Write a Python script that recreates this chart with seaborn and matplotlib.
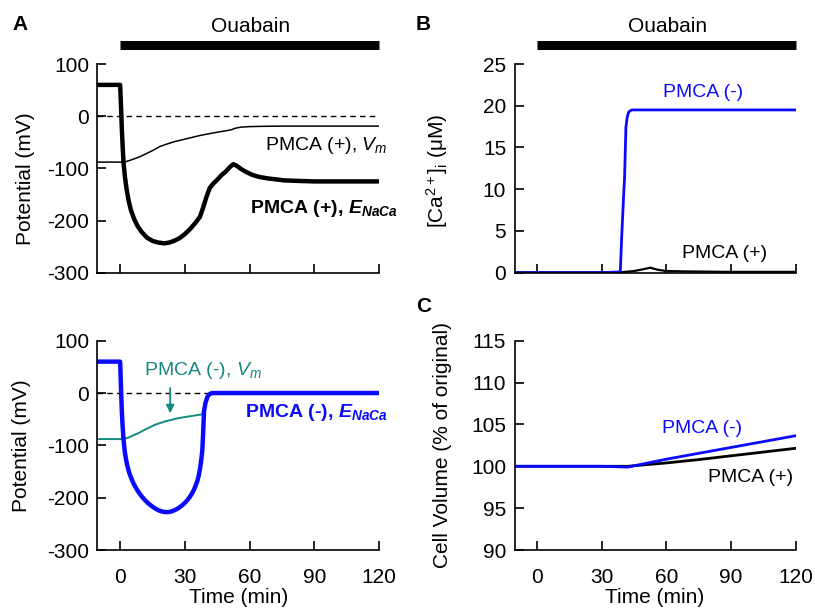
import numpy as np
import pandas as pd
import seaborn as sns
import matplotlib.pyplot as plt

# --- values (time in min) ---
# A, top: PMCA (+)
t_enaca_pos = [-10.5, 0, 0.4, 0.8, 1.2, 1.6, 2.2, 3, 4, 5, 6.5, 8, 10, 12.5, 15, 17.5, 20, 21, 23, 25,
               27.5, 30, 32.5, 35, 37, 38.5, 40, 41.5, 43, 45, 47, 49, 51, 52.5, 54, 56, 58, 61, 64,
               68, 72, 76, 82, 90, 100, 120]
v_enaca_pos = [60, 60, 20, -25, -60, -90, -115, -140, -163, -180, -197, -210, -222, -233, -239, -242,
               -243.5, -243.5, -242, -239, -234, -226, -216, -204, -193, -175, -155, -138, -130, -122,
               -113, -106, -97, -92, -95, -101, -106, -112, -116, -119, -121, -123, -124, -125, -125, -125]
t_vm_pos = [-10.5, 0, 2, 3.5, 5, 7, 9, 12, 15, 18.5, 22, 25, 28, 32, 37, 42, 46, 49, 51.5, 53.5, 56,
            60, 65, 75, 90, 120]
v_vm_pos = [-88, -88, -88, -86, -84, -81, -78, -72, -66, -58, -53, -49, -46, -42, -37, -33, -30, -28,
            -26, -23, -21, -20, -19.5, -19, -19, -19]

# A, bottom: PMCA (-)
t_enaca_neg = [-10.5, 0, 0.4, 0.8, 1.1, 1.6, 2.1, 2.6, 3.4, 4.2, 5, 6, 7, 8, 9, 10.3, 11.5, 12.7, 14,
               15.3, 16.6, 18, 19.5, 21, 22.5, 24, 25.5, 27, 28.5, 30, 31.2, 32.3, 33.3, 34.2, 35, 35.8,
               36.5, 37.1, 37.6, 38.1, 38.5, 38.9, 39.5, 40.4, 41.2, 42.5, 60, 120]
v_enaca_neg = [60, 60, 10, -35, -60, -90, -110, -124, -140, -152, -161, -171, -179, -186, -192, -199,
               -204.5, -209.5, -214, -218, -221.5, -224.5, -226.5, -227.5, -227.5, -226, -223.5, -220,
               -215.5, -210, -204.5, -198.5, -192, -185, -177, -168, -157, -143, -128, -110, -75, -35,
               -20, -8, -3, 0, 0, 0]
t_vm_neg = [-10.5, 0, 2, 4, 6, 8.8, 11, 13.5, 16, 18, 21, 24, 27, 30, 33, 36, 38, 38.6, 39.2, 40,
            40.8, 42, 60, 120]
v_vm_neg = [-88, -88, -87.5, -85, -81, -76, -71, -66, -61, -58, -54, -51, -48, -46, -44, -42, -41,
            -32, -20, -10, -3, 0, 0, 0]

# B: [Ca2+]i (uM)
t_ca_neg = [-10.5, 0, 30, 38.6, 39.2, 40.1, 40.6, 41.2, 41.8, 42.4, 43.2, 44, 60, 120]
v_ca_neg = [0, 0, 0, 0.1, 4, 9, 11.5, 17.4, 18.6, 19.2, 19.4, 19.5, 19.5, 19.5]
t_ca_pos = [-10.5, 0, 30, 40, 45, 49, 52.5, 56, 60, 70, 90, 120]
v_ca_pos = [0.05, 0.05, 0.05, 0.08, 0.2, 0.4, 0.6, 0.35, 0.2, 0.15, 0.1, 0.1]

# C: cell volume (% of original)
t_vol = [-10.5, 0, 30, 42, 60, 75, 90, 105, 120]
v_vol_neg = [100, 100, 100, 99.9, 100.85, 101.55, 102.25, 102.95, 103.65]
v_vol_pos = [100, 100, 100, 100, 100.4, 100.8, 101.25, 101.7, 102.15]

time_ticks = [0, 30, 60, 90, 120]
ouabain_span = [0, 120]

BLUE = "#0a0aff"
TEAL = "#14897f"

sns.set_style("ticks")
plt.rcParams["font.family"] = ["Liberation Sans", "DejaVu Sans"]
plt.rcParams["mathtext.fontset"] = "custom"
plt.rcParams["mathtext.rm"] = "Liberation Sans"
plt.rcParams["mathtext.it"] = "Liberation Sans:italic"
plt.rcParams["mathtext.bf"] = "Liberation Sans:bold"
plt.rcParams["mathtext.bfit"] = "Liberation Sans:bold:italic"
plt.rcParams["axes.linewidth"] = 1.2
plt.rcParams["axes.unicode_minus"] = False
for key in ("text.color", "axes.labelcolor", "xtick.color", "ytick.color", "axes.edgecolor"):
    plt.rcParams[key] = "black"

fig = plt.figure(figsize=(8.15, 6.12), dpi=100)
ax_a1 = fig.add_axes([0.1196, 0.5544, 0.3454, 0.341])
ax_a2 = fig.add_axes([0.1196, 0.1013, 0.3454, 0.342])
ax_b = fig.add_axes([0.6313, 0.5544, 0.345, 0.341])
ax_c = fig.add_axes([0.6313, 0.1013, 0.345, 0.342])

FS = 15
for ax in (ax_a1, ax_a2, ax_b, ax_c):
    ax.set_xlim(-10.5, 120)
    ax.set_xticks(time_ticks)
    ax.tick_params(direction="in", length=6.5, width=1.2, labelsize=FS, colors="black")
    ax.tick_params(axis="y", pad=6)
    ax.tick_params(axis="x", pad=13)
    sns.despine(ax=ax)
    ax.set_facecolor("none")

# A top
sns.lineplot(x=[-10.5, 120], y=[0, 0], ax=ax_a1, color="black", lw=1, linestyle=(0, (4, 3)))
sns.lineplot(x=t_vm_pos, y=v_vm_pos, ax=ax_a1, color="black", lw=1.1, sort=False)
sns.lineplot(x=t_enaca_pos, y=v_enaca_pos, ax=ax_a1, color="black", lw=3.2, sort=False)
ax_a1.set_ylim(-300, 100)
ax_a1.set_yticks([-300, -200, -100, 0, 100])
ax_a1.set_xticklabels([])
ax_a1.set_ylabel("Potential (mV)", fontsize=FS)
ax_a1.yaxis.set_label_coords(-0.222, 0.45)
ax_a1.text(67, -57, r"PMCA (+), $V_m$", fontsize=14, va="center", ha="left")
ax_a1.text(60, -177, r"PMCA (+), $\mathbfit{E}_{\mathbfit{NaCa}}$", fontsize=14,
           va="center", ha="left", fontweight="bold", clip_on=False)

# A bottom
sns.lineplot(x=[-10.5, 120], y=[0, 0], ax=ax_a2, color="black", lw=1, linestyle=(0, (4, 3)))
sns.lineplot(x=t_vm_neg, y=v_vm_neg, ax=ax_a2, color=TEAL, lw=1.4, sort=False)
sns.lineplot(x=t_enaca_neg, y=v_enaca_neg, ax=ax_a2, color=BLUE, lw=3.2, sort=False)
ax_a2.set_ylim(-300, 100)
ax_a2.set_yticks([-300, -200, -100, 0, 100])
ax_a2.set_ylabel("Potential (mV)", fontsize=FS)
ax_a2.yaxis.set_label_coords(-0.236, 0.5)
ax_a2.set_xlabel("Time (min)", fontsize=FS, labelpad=1)
ax_a2.text(11, 44, r"PMCA (-), $V_m$", fontsize=14, va="center", ha="left", color=TEAL)
ax_a2.annotate("", xy=(23.2, -44), xytext=(23.2, 15),
               arrowprops=dict(arrowstyle="-|>", color=TEAL, lw=1.3, mutation_scale=12))
ax_a2.text(58, -37, r"PMCA (-), $\mathbfit{E}_{\mathbfit{NaCa}}$", fontsize=14,
           va="center", ha="left", fontweight="bold", color=BLUE, clip_on=False)

# B
sns.lineplot(x=t_ca_pos, y=v_ca_pos, ax=ax_b, color="black", lw=1.6, sort=False)
sns.lineplot(x=t_ca_neg, y=v_ca_neg, ax=ax_b, color=BLUE, lw=2, sort=False)
ax_b.set_ylim(0, 25)
ax_b.set_yticks([0, 5, 10, 15, 20, 25])
ax_b.set_xticklabels([])
ax_b.set_ylabel(r"[Ca$^{2+}$]$_{\rm i}$ (μM)", fontsize=FS)
ax_b.yaxis.set_label_coords(-0.228, 0.49)
ax_b.text(77, 21.6, "PMCA (-)", fontsize=14, ha="center", va="center", color=BLUE)
ax_b.text(87, 2.3, "PMCA (+)", fontsize=14, ha="center", va="center", color="black")

# C
sns.lineplot(x=t_vol, y=v_vol_pos, ax=ax_c, color="black", lw=2, sort=False)
sns.lineplot(x=t_vol, y=v_vol_neg, ax=ax_c, color=BLUE, lw=2, sort=False)
ax_c.set_ylim(90, 115)
ax_c.set_yticks([90, 95, 100, 105, 110, 115])
ax_c.set_ylabel("Cell Volume (% of original)", fontsize=FS)
ax_c.yaxis.set_label_coords(-0.223, 0.5)
ax_c.set_xlabel("Time (min)", fontsize=FS, labelpad=1)
ax_c.text(76.5, 104.5, "PMCA (-)", fontsize=14, ha="center", va="center", color=BLUE)
ax_c.text(99, 98.7, "PMCA (+)", fontsize=14, ha="center", va="center", color="black")

# Ouabain bars (axes-fraction y above the top axes)
for ax in (ax_a1, ax_b):
    ax.plot(ouabain_span, [1.09, 1.09], color="black", lw=6.5, solid_capstyle="butt",
            transform=ax.get_xaxis_transform(), clip_on=False)
    ax.text(np.mean(ouabain_span) + 0.5, 1.18, "Ouabain", fontsize=FS, ha="center", va="center",
            transform=ax.get_xaxis_transform())

# panel letters
fig.text(20 / 815, 1 - 25 / 612, "A", fontsize=15, fontweight="bold", ha="center", va="center")
fig.text(423 / 815, 1 - 25 / 612, "B", fontsize=15, fontweight="bold", ha="center", va="center")
fig.text(424 / 815, 1 - 306 / 612, "C", fontsize=15, fontweight="bold", ha="center", va="center")

fig.savefig("out.png", dpi=100)
